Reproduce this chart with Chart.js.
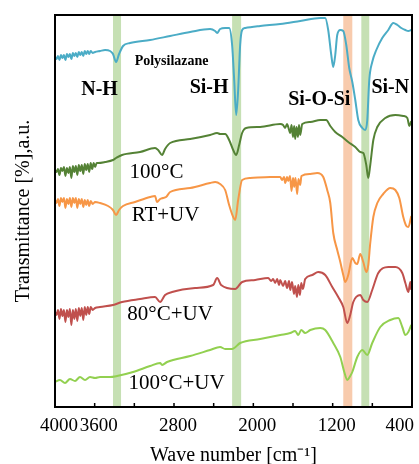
<!DOCTYPE html>
<html>
<head>
<meta charset="utf-8">
<script src="https://cdn.jsdelivr.net/npm/chart.js@4.4.0/dist/chart.umd.min.js"></script>
<style>
  html, body { margin: 0; padding: 0; background: #fff; }
  canvas { display: block; }
</style>
</head>
<body>
<canvas id="ftir-chart" width="419" height="464"></canvas>
<script>
'use strict';

// [wave number cm-1, transmittance a.u. (stacked offset)]
const polysilazane = [
  [4000, 350], [3985, 348], [3970, 351], [3955, 347], [3940, 352], [3925, 349], [3910, 352],
  [3895, 347], [3880, 353], [3865, 350], [3850, 353], [3835, 348], [3820, 354], [3805, 351],
  [3790, 354], [3775, 350], [3760, 355], [3745, 352], [3730, 355], [3715, 351], [3700, 356],
  [3685, 353], [3670, 356], [3655, 353], [3640, 356], [3620, 354], [3596, 355], [3546, 356],
  [3495, 357], [3445, 356], [3415, 353], [3384, 345], [3354, 353], [3314, 361],
  [3243, 364], [3041, 367], [2839, 371], [2637, 375], [2436, 378], [2385, 376], [2365, 374],
  [2335, 378], [2284, 379], [2244, 379], [2214, 362], [2193, 327], [2173, 292], [2153, 317],
  [2133, 362], [2113, 377], [2082, 379], [1931, 381], [1729, 383], [1527, 386], [1325, 389],
  [1275, 389], [1245, 377], [1214, 352], [1194, 340], [1174, 352], [1154, 372], [1123, 377],
  [1093, 376], [1063, 362], [1033, 339], [1002, 325], [972, 307], [942, 287], [901, 279],
  [871, 277], [851, 287], [831, 327], [801, 345], [760, 357], [700, 369], [639, 377],
  [589, 384], [548, 382], [508, 379], [467, 377], [437, 376], [407, 377]
];
const cured100 = [
  [4000, 237], [3985, 235], [3970, 238], [3955, 232], [3940, 239], [3925, 236], [3910, 240],
  [3895, 231], [3880, 239], [3865, 234], [3850, 240], [3835, 229], [3820, 241], [3805, 235],
  [3790, 241], [3775, 232], [3760, 242], [3745, 236], [3730, 242], [3715, 233], [3700, 243],
  [3685, 237], [3670, 243], [3655, 235], [3640, 244], [3625, 238], [3610, 244], [3595, 240],
  [3580, 244], [3566, 244], [3495, 245], [3415, 247], [3384, 249], [3324, 252], [3142, 255],
  [2991, 259], [2960, 257], [2920, 252], [2890, 258], [2839, 264], [2637, 268], [2436, 272],
  [2365, 274], [2335, 273], [2284, 273], [2244, 267], [2203, 257], [2173, 252], [2143, 262],
  [2113, 274], [2072, 279], [1931, 280], [1729, 283], [1700, 282], [1680, 279], [1660, 283],
  [1648, 280], [1628, 274], [1615, 282], [1600, 270], [1588, 281], [1578, 268], [1565, 280],
  [1550, 270], [1540, 282], [1527, 272], [1507, 283], [1426, 285], [1325, 287], [1265, 287],
  [1224, 281], [1174, 275], [1103, 270], [1043, 265], [972, 260], [922, 255], [891, 254],
  [861, 242], [841, 229], [821, 242], [790, 267], [750, 280], [669, 289], [568, 292],
  [488, 291], [447, 289], [427, 281], [407, 286]
];
const rtUv = [
  [4000, 207], [3985, 204], [3970, 208], [3955, 201], [3940, 209], [3925, 205], [3910, 209],
  [3895, 199], [3880, 208], [3865, 203], [3850, 209], [3835, 200], [3820, 209], [3805, 204],
  [3790, 209], [3775, 199], [3760, 208], [3745, 203], [3730, 208], [3715, 200], [3700, 207],
  [3685, 202], [3670, 207], [3655, 201], [3640, 206], [3620, 203], [3596, 205], [3546, 204],
  [3465, 201], [3415, 197], [3384, 192], [3354, 197], [3314, 201], [3193, 205],
  [3041, 210], [2991, 211], [2971, 205], [2940, 208], [2910, 209], [2880, 210], [2839, 215],
  [2637, 219], [2436, 224], [2385, 225], [2335, 223], [2284, 217], [2244, 202], [2203, 190],
  [2183, 187], [2153, 207], [2113, 227], [2032, 229], [1830, 230], [1729, 230], [1710, 227],
  [1690, 230], [1679, 224], [1660, 230], [1648, 226], [1630, 231], [1615, 216], [1600, 229],
  [1588, 220], [1575, 229], [1558, 213], [1545, 228], [1527, 222], [1515, 231], [1426, 233],
  [1356, 234], [1295, 230], [1255, 217], [1224, 204], [1194, 174], [1154, 157], [1123, 145],
  [1093, 132], [1073, 125], [1043, 132], [1002, 149], [972, 144], [952, 143], [922, 153],
  [891, 145], [861, 135], [841, 142], [821, 164], [790, 190], [750, 204], [690, 213],
  [619, 219], [568, 217], [528, 209], [488, 190], [457, 181], [437, 180], [407, 191]
];
const cured80Uv = [
  [4000, 95], [3985, 92], [3970, 97], [3955, 88], [3940, 98], [3925, 91], [3910, 97],
  [3895, 85], [3880, 97], [3865, 90], [3850, 98], [3835, 82], [3820, 97], [3805, 88],
  [3790, 98], [3775, 86], [3760, 99], [3745, 91], [3730, 99], [3715, 87], [3700, 100],
  [3685, 92], [3670, 100], [3655, 93], [3640, 100], [3620, 97], [3596, 99], [3546, 100],
  [3415, 102], [3324, 105], [3142, 108], [2991, 110], [2940, 105], [2890, 112],
  [2819, 115], [2587, 119], [2405, 122], [2365, 129], [2325, 122], [2183, 118], [2113, 125],
  [1981, 127], [1850, 129], [1820, 126], [1800, 128], [1780, 124], [1760, 128], [1740, 122],
  [1729, 127], [1700, 121], [1679, 126], [1660, 119], [1640, 126], [1628, 117], [1610, 125],
  [1590, 113], [1578, 121], [1560, 110], [1547, 122], [1530, 112], [1517, 124], [1500, 118],
  [1477, 128], [1406, 132], [1346, 135], [1275, 132], [1204, 120],
  [1144, 110], [1093, 100], [1053, 84], [1023, 92], [992, 105], [922, 112], [891, 107],
  [851, 105], [801, 117], [740, 134], [639, 140], [568, 140], [498, 134], [467, 124],
  [437, 115], [417, 125], [407, 117]
];
const cured100Uv = [
  [4000, 25], [3950, 27], [3899, 24], [3849, 28], [3798, 26], [3748, 30], [3697, 27],
  [3647, 30], [3596, 29], [3546, 30], [3445, 30], [3374, 31], [3213, 35], [3041, 41],
  [2940, 44], [2920, 42], [2870, 45], [2637, 51], [2436, 57], [2335, 60], [2284, 58],
  [2214, 58], [2133, 64], [1931, 68], [1729, 72], [1628, 74], [1578, 76], [1547, 72],
  [1517, 77], [1477, 74], [1426, 77], [1325, 79], [1275, 77], [1194, 64], [1123, 50],
  [1083, 35], [1053, 27], [1023, 31], [1002, 35], [952, 50], [901, 57], [851, 52],
  [801, 64], [720, 80], [619, 87], [538, 89], [498, 80], [467, 72], [437, 75], [407, 82]
];

const seriesNames = ['Polysilazane', '100°C', 'RT+UV', '80°C+UV', '100°C+UV'];
const seriesData = [polysilazane, cured100, rtUv, cured80Uv, cured100Uv];
const seriesColors = ['#4bacc6', '#548235', '#f79646', '#c0504d', '#92d050'];

const xTickLabels = [4000, 3600, 2800, 2000, 1200, 400];

// highlighted absorption bands [from, to] in cm-1
const bandRanges = [[3415, 3334], [2214, 2123], [1093, 1002], [911, 831]];
const bandColors = ['#c6e0b4', '#c6e0b4', '#f8cbad', '#c6e0b4'];

// text, wave number, y value
const peakLabels = [
  ['N-H', 3551, 317], ['Si-H', 2446, 319], ['Si-O-Si', 1335, 307], ['Si-N', 619, 319]
];
const sampleLabels = [
  ['100°C', 2976, 235], ['RT+UV', 2885, 192], ['80°C+UV', 2839, 93], ['100°C+UV', 2774, 24]
];

const SERIF = '"Liberation Serif", "Times New Roman", serif';

const decorations = {
  id: 'decorations',
  beforeDraw(chart) {
    // keep the last tick label ("400") inside the canvas
    const x = chart.scales.x;
    x.getLabelItems().forEach(item => {
      if (item.label === '400') {
        item.options.textAlign = 'right';
        item.options.translation[0] = chart.chartArea.right + 2;
      }
    });
  },
  beforeDatasetsDraw(chart) {
    const {ctx, chartArea, scales: {x}} = chart;
    ctx.save();
    bandRanges.forEach((band, i) => {
      const x1 = x.getPixelForValue(band[0]);
      const x2 = x.getPixelForValue(band[1]);
      ctx.fillStyle = bandColors[i];
      ctx.fillRect(Math.min(x1, x2), chartArea.top, Math.abs(x2 - x1), chartArea.bottom - chartArea.top);
    });
    ctx.restore();
  },
  afterDatasetsDraw(chart) {
    const {ctx, chartArea, scales: {x, y}} = chart;
    ctx.save();
    ctx.fillStyle = '#000';
    ctx.textAlign = 'center';
    ctx.textBaseline = 'middle';
    ctx.font = 'bold 20px ' + SERIF;
    peakLabels.forEach(l => ctx.fillText(l[0], x.getPixelForValue(l[1]), y.getPixelForValue(l[2])));
    ctx.font = 'bold 14px ' + SERIF;
    ctx.fillText(seriesNames[0], x.getPixelForValue(2824), y.getPixelForValue(346));
    ctx.font = '21px ' + SERIF;
    sampleLabels.forEach(l => ctx.fillText(l[0], x.getPixelForValue(l[1]), y.getPixelForValue(l[2])));

    // inward tick marks on the bottom axis
    ctx.strokeStyle = '#000';
    ctx.lineWidth = 1.5;
    x.ticks.forEach(t => {
      const px = x.getPixelForValue(t.value);
      ctx.beginPath();
      ctx.moveTo(px, chartArea.bottom);
      ctx.lineTo(px, chartArea.bottom - 4);
      ctx.stroke();
    });
    // frame
    ctx.lineWidth = 2;
    ctx.strokeRect(chartArea.left, chartArea.top, chartArea.right - chartArea.left, chartArea.bottom - chartArea.top);
    ctx.restore();
  }
};

const ftirChart = new Chart(document.querySelector('#ftir-chart'), {
  type: 'line',
  data: {
    datasets: seriesData.map((points, i) => ({
      label: seriesNames[i],
      data: points.map(p => ({x: p[0], y: p[1]})),
      borderColor: seriesColors[i],
      borderWidth: 2,
      pointRadius: 0,
      fill: false,
      cubicInterpolationMode: 'monotone'
    }))
  },
  options: {
    responsive: false,
    animation: false,
    layout: {padding: {top: 15, right: 7, left: 0, bottom: 0}},
    plugins: {
      legend: {display: false},
      tooltip: {enabled: false}
    },
    scales: {
      x: {
        type: 'linear',
        reverse: true,
        min: 400,
        max: 4000,
        grid: {display: false, drawTicks: false},
        border: {display: false},
        ticks: {
          stepSize: 400,
          autoSkip: false,
          maxRotation: 0,
          padding: 8,
          labelOffset: 4,
          color: '#000',
          font: {family: SERIF, size: 19},
          callback: v => xTickLabels.includes(v) ? String(v) : ''
        },
        title: {
          display: true,
          text: 'Wave number [cm⁻¹]',
          color: '#000',
          font: {family: SERIF, size: 20},
          padding: {top: 0, bottom: -4}
        },
        afterFit: scale => {
          scale.height = 57;
          scale.paddingLeft = 0;
          scale.paddingRight = 0;
        }
      },
      y: {
        min: 0,
        max: 392,
        grid: {display: false, drawTicks: false},
        border: {display: false},
        ticks: {display: false},
        title: {
          display: true,
          text: 'Transmittance [%],a.u.',
          color: '#000',
          font: {family: SERIF, size: 20},
          padding: {top: 12, bottom: 0}
        },
        afterFit: scale => {
          scale.width = 55;
        }
      }
    }
  },
  plugins: [decorations]
});
</script>
</body>
</html>
